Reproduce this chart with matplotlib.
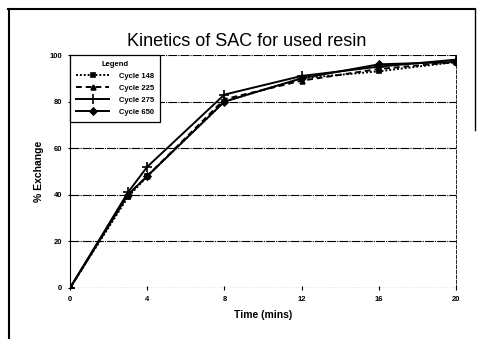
#Kinetics of SAC for used resin - recreated chart
import numpy as np
import matplotlib
matplotlib.use("Agg")
import matplotlib.pyplot as plt
from matplotlib.lines import Line2D

#time points and % exchange for each cycle
time_min = [0, 3, 4, 8, 12, 16, 20]
cycle_148 = [0, 39, 48, 80, 90, 93, 97]
cycle_225 = [0, 40, 48, 81, 89, 94, 97]
cycle_275 = [0, 41, 52, 83, 91, 95, 98]
cycle_650 = [0, 40, 48, 80, 90, 96, 97]
series_names = ["Cycle 148", "Cycle 225", "Cycle 275", "Cycle 650"]
x_ticks = [0, 4, 8, 12, 16, 20]
y_ticks = [0, 20, 40, 60, 80, 100]

plt.rcParams['font.family'] = ['Liberation Sans', 'DejaVu Sans']

fig = plt.figure(figsize=(4.79, 3.39), dpi=100)
ax = fig.add_axes([70/479, 51/339, 386/479, 233/339])

styles = [
    (cycle_148, 's', (0, (1, 1))),
    (cycle_225, '^', (0, (3, 2))),
    (cycle_275, '+', '-'),
    (cycle_650, 'D', '-'),
]
for (vals, mk, ls), name in zip(styles, series_names):
    ax.plot(time_min, vals, color='black', linestyle=ls, linewidth=1.4,
            marker=mk, markersize=3.5 if mk != '+' else 7, markeredgewidth=1.2,
            label=name)

#horizontal dashed grid
for y in y_ticks:
    ax.axhline(y, color='black', linewidth=0.8, linestyle=(0, (8, 1, 1, 1)), zorder=0)

ax.set_xlim(0, 20)
ax.set_ylim(0, 100)
ax.set_xticks(x_ticks)
ax.set_yticks(y_ticks)
ax.tick_params(labelsize=5.5, length=3, width=0.8, direction='inout', pad=4)
for lab in ax.get_xticklabels() + ax.get_yticklabels():
    lab.set_fontweight('bold')

for side in ['top', 'bottom']:
    ax.spines[side].set_visible(False)
ax.spines['left'].set_linewidth(0.8)
ax.spines['right'].set_linewidth(0.6)
ax.spines['right'].set_linestyle((0, (4, 2)))

fig.text(247/479, 1 - 42/339, "Kinetics of SAC for used resin", fontsize=13,
         ha='center', va='center')
ax.set_xlabel("Time (mins)", fontsize=7.5, fontweight='bold', labelpad=5)
ax.set_ylabel("% Exchange", fontsize=7.5, fontweight='bold', labelpad=4)

leg = ax.legend(loc='upper left', bbox_to_anchor=(0, 1), borderaxespad=0,
                title="Legend", fontsize=5.5, title_fontsize=5.5, frameon=True,
                fancybox=False, edgecolor='black', framealpha=1,
                handlelength=4.3, labelspacing=0.6, borderpad=0.8,
                handletextpad=1.3)
leg.get_frame().set_linewidth(0.9)
for t in leg.get_texts():
    t.set_fontweight('bold')
leg.get_title().set_fontweight('bold')

#page border from the scanned figure
fig.add_artist(Line2D([8/479, 475/479], [1 - 9/339, 1 - 9/339], color='black', linewidth=1.5))
fig.add_artist(Line2D([9/479, 9/479], [0, 1 - 9/339], color='black', linewidth=1.5))
fig.add_artist(Line2D([475/479, 475/479], [1 - 130/339, 1 - 9/339], color='black', linewidth=1.0))

fig.savefig("out.png", dpi=100)
